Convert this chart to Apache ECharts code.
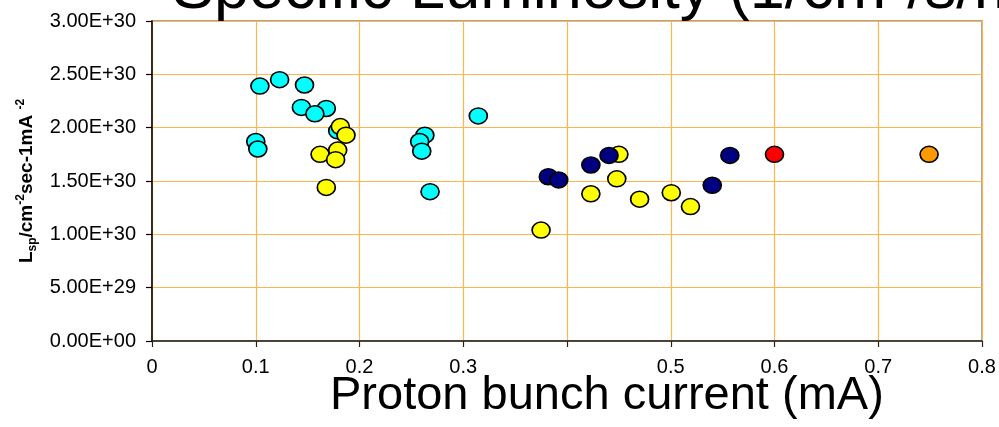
<!DOCTYPE html>
<html>
<head>
<meta charset="utf-8">
<script src="https://cdn.jsdelivr.net/npm/echarts@6/dist/echarts.min.js"></script>
<style>
html,body{margin:0;padding:0;background:#fff;}
#chart{width:999px;height:427px;}
</style>
</head>
<body>
<div id="chart"></div>
<script>
// Data (x: proton bunch current in mA, y: specific luminosity)
var cyanX = [0.104, 0.123, 0.147, 0.144, 0.168, 0.157, 0.100, 0.102, 0.179, 0.3145, 0.263, 0.258, 0.260, 0.268];
var cyanY = [2.39e30, 2.45e30, 2.40e30, 2.19e30, 2.18e30, 2.13e30, 1.87e30, 1.80e30, 1.97e30, 2.11e30, 1.93e30, 1.87e30, 1.78e30, 1.40e30];
var yellowX = [0.1815, 0.187, 0.162, 0.179, 0.177, 0.168, 0.450, 0.448, 0.423, 0.470, 0.5005, 0.519, 0.375];
var yellowY = [2.01e30, 1.93e30, 1.75e30, 1.79e30, 1.70e30, 1.44e30, 1.75e30, 1.52e30, 1.38e30, 1.33e30, 1.39e30, 1.26e30, 1.04e30];
var navyX = [0.382, 0.392, 0.423, 0.4405, 0.540, 0.557];
var navyY = [1.54e30, 1.51e30, 1.65e30, 1.74e30, 1.46e30, 1.74e30];
var redX = [0.600];
var redY = [1.75e30];
var orangeX = [0.749];
var orangeY = [1.75e30];

var xTickLabels = ['0', '0.1', '0.2', '0.3', '', '0.5', '0.6', '0.7', '0.8'];
var yTickLabels = ['0.00E+00', '5.00E+29', '1.00E+30', '1.50E+30', '2.00E+30', '2.50E+30', '3.00E+30'];

var titleText = 'Specific Luminosity (1/cm\u00B2/s/mA\u00B2)';
var xTitleText = 'Proton bunch current (mA)';

function pairs(xs, ys) {
  var out = [];
  for (var i = 0; i < xs.length; i++) out.push([xs[i], ys[i]]);
  return out;
}

var FONT = '"Liberation Sans", Arial, sans-serif';
var gridColor = '#FDB54E';

function mkSeries(name, xs, ys, color) {
  return {
    name: name,
    type: 'scatter',
    data: pairs(xs, ys),
    symbol: 'circle',
    symbolSize: [18, 16],
    itemStyle: { color: color, borderColor: '#000', borderWidth: 1.6, opacity: 1 },
    emphasis: { disabled: true },
    silent: true,
    animation: false
  };
}

var chart = echarts.init(document.getElementById('chart'), null, { renderer: 'canvas' });
chart.setOption({
  backgroundColor: '#fff',
  animation: false,
  grid: { left: 152, right: 17, top: 21, bottom: 86, show: true, borderColor: '#888', borderWidth: 1.5, backgroundColor: 'transparent' },
  xAxis: {
    type: 'value', min: 0, max: 0.8, interval: 0.1,
    axisLine: { show: true, onZero: false, lineStyle: { color: '#222', width: 1.5 } },
    axisTick: { show: true, length: 6, lineStyle: { color: '#222', width: 1.2 } },
    axisLabel: {
      margin: 16, color: '#000', fontFamily: FONT, fontSize: 20,
      formatter: function (v) { return xTickLabels[Math.round(v * 10)]; }
    },
    splitLine: { show: true, lineStyle: { color: gridColor, width: 1.2 } }
  },
  yAxis: {
    type: 'value', min: 0, max: 3e30, interval: 0.5e30,
    axisLine: { show: true, onZero: false, lineStyle: { color: '#000', width: 1.5 } },
    axisTick: { show: true, length: 6, lineStyle: { color: '#000', width: 1.2 } },
    axisLabel: {
      margin: 16, color: '#000', fontFamily: FONT, fontSize: 20,
      formatter: function (v) { return yTickLabels[Math.round(v / 0.5e30)]; }
    },
    splitLine: { show: true, lineStyle: { color: gridColor, width: 1.2 } },
    name: '{b|L}{s|sp}{b|/cm}{p|-2}{b|sec-1mA }{p|-2}',
    nameLocation: 'middle',
    nameGap: 112,
    nameRotate: 90,
    nameTextStyle: {
      rich: {
        b: { fontFamily: FONT, fontSize: 19, fontWeight: 'bold', color: '#000', lineHeight: 24 },
        s: { fontFamily: FONT, fontSize: 12, fontWeight: 'bold', color: '#000', lineHeight: 24, verticalAlign: 'bottom' },
        p: { fontFamily: FONT, fontSize: 12, fontWeight: 'bold', color: '#000', lineHeight: 24, verticalAlign: 'top' }
      }
    }
  },
  graphic: [
    { type: 'text', left: 172, top: -41, silent: true,
      style: { text: titleText, font: '63px ' + FONT, fill: '#000' } },
    { type: 'text', left: 330, top: 373, silent: true,
      style: { text: xTitleText, font: '47px ' + FONT, fill: '#000' } }
  ],
  series: [
    mkSeries('cyan', cyanX, cyanY, '#00FFFF'),
    mkSeries('yellow', yellowX, yellowY, '#FFFF00'),
    mkSeries('navy', navyX, navyY, '#000080'),
    mkSeries('red', redX, redY, '#FF0000'),
    mkSeries('orange', orangeX, orangeY, '#FF9900')
  ]
});
</script>
</body>
</html>
